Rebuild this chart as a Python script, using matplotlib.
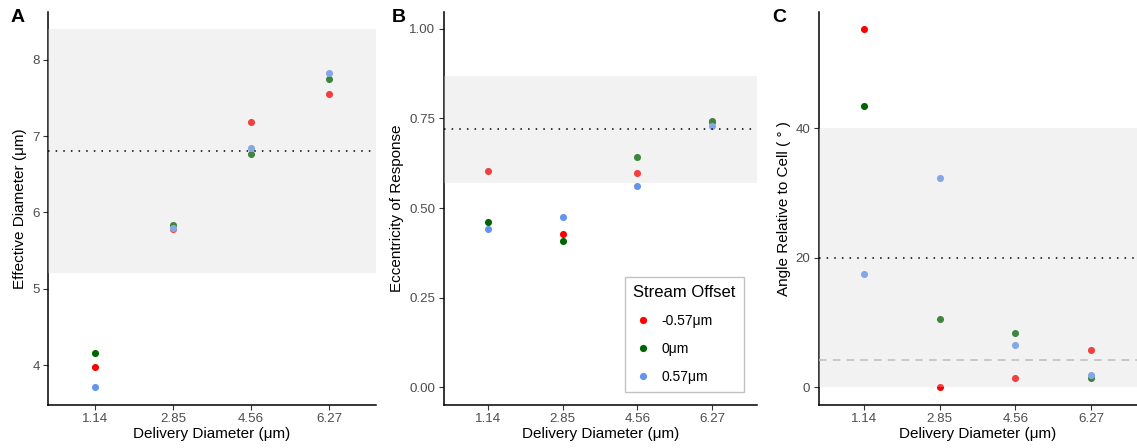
import matplotlib
matplotlib.use('Agg')
import matplotlib.pyplot as plt
from matplotlib.lines import Line2D

plt.rcParams['font.family'] = ['Liberation Sans', 'DejaVu Sans']

delivery = ['1.14', '2.85', '4.56', '6.27']
offsets = ['-0.57\u03bcm', '0\u03bcm', '0.57\u03bcm']
colors = ['#ff0000', '#006400', '#6495ed']

# effective diameter (um), one list per stream offset
eff_neg = [3.97, 5.78, 7.18, 7.55]
eff_zero = [4.16, 5.83, 6.76, 7.75]
eff_pos = [3.71, 5.80, 6.84, 7.82]

# eccentricity of response
ecc_neg = [0.604, 0.428, 0.597, 0.740]
ecc_zero = [0.461, 0.408, 0.644, 0.744]
ecc_pos = [0.442, 0.476, 0.562, 0.728]

# angle relative to cell (deg)
ang_neg = [55.4, 0.1, 1.5, 5.8]
ang_zero = [43.5, 10.6, 8.4, 1.4]
ang_pos = [17.5, 32.4, 6.5, 1.95]

# reference bands / lines
eff_band = (5.2, 8.4)
eff_ref = 6.8
ecc_band = (0.571, 0.869)
ecc_ref = 0.72
ang_band = (0.0, 40.0)
ang_ref = 20.0
ang_ref2 = 4.2

W, H = 1137, 448
fig = plt.figure(figsize=(W / 100, H / 100), dpi=100)


def make_axes(left, right):
    return fig.add_axes([left / W, 1 - 405 / H, (right - left) / W, (405 - 12) / H])


def style(ax, ylabel, yticks, yticklabels, ylim):
    for s in ['top', 'right']:
        ax.spines[s].set_visible(False)
    for s in ['left', 'bottom']:
        ax.spines[s].set_linewidth(1.1)
        ax.spines[s].set_color('black')
    ax.set_xlim(-0.6, 3.6)
    ax.set_ylim(*ylim)
    ax.set_xticks(range(len(delivery)))
    ax.set_xticklabels(delivery)
    ax.set_yticks(yticks)
    ax.set_yticklabels(yticklabels)
    ax.tick_params(length=3.5, width=0.8, color='#333333', labelcolor='#4d4d4d',
                   labelsize=9.6, pad=2.5)
    ax.set_xlabel('Delivery Diameter (\u03bcm)', fontsize=11, labelpad=1.5)
    ax.set_ylabel(ylabel, fontsize=11, labelpad=3.5)


def draw(ax, series, band, ref):
    for vals, c in zip(series, colors):
        ax.scatter(range(len(vals)), vals, s=26, color=c, linewidths=0, zorder=2)
    ax.axhspan(band[0], band[1], facecolor='#d4d4d4', alpha=0.3, lw=0, zorder=3)
    ax.axhline(ref, color='black', lw=1.1, ls=(0, (1, 4)), zorder=4)


axA = make_axes(48, 376)
draw(axA, [eff_neg, eff_zero, eff_pos], eff_band, eff_ref)
style(axA, 'Effective Diameter (\u03bcm)', [4, 5, 6, 7, 8], ['4', '5', '6', '7', '8'],
      (3.476, 8.625))

axB = make_axes(443.5, 756.8)
draw(axB, [ecc_neg, ecc_zero, ecc_pos], ecc_band, ecc_ref)
style(axB, 'Eccentricity of Response', [0, 0.25, 0.5, 0.75, 1.0],
      ['0.00', '0.25', '0.50', '0.75', '1.00'], (-0.049, 1.047))

axC = make_axes(818.7, 1136.5)
draw(axC, [ang_neg, ang_zero, ang_pos], ang_band, ang_ref)
axC.axhline(ang_ref2, color='#bdbdbd', lw=1.1, ls=(0, (5, 4)), zorder=4)
style(axC, 'Angle Relative to Cell ( \u00b0 )', [0, 20, 40], ['0', '20', '40'],
      (-2.73, 58.0))

for lab, x in zip(['A', 'B', 'C'], [18, 399, 779]):
    fig.text(x / W, 1 - 18 / H, lab, fontsize=14, fontweight='bold',
             ha='center', va='center')

handles = [Line2D([], [], ls='none', marker='o', markersize=5.2, color=c,
                  markeredgewidth=0) for c in colors]
leg = fig.legend(handles, offsets, title='Stream Offset', loc='upper left',
                 bbox_to_anchor=(625 / W, 1 - 277 / H), borderaxespad=0,
                 fontsize=10, title_fontsize=12, frameon=True, fancybox=False,
                 handletextpad=0.6, handlelength=1.4, labelspacing=1.0,
                 borderpad=0.6, alignment='left')
leg.get_frame().set_edgecolor('#b3b3b3')
leg.get_frame().set_linewidth(1.0)

fig.savefig('out.png', dpi=100)
